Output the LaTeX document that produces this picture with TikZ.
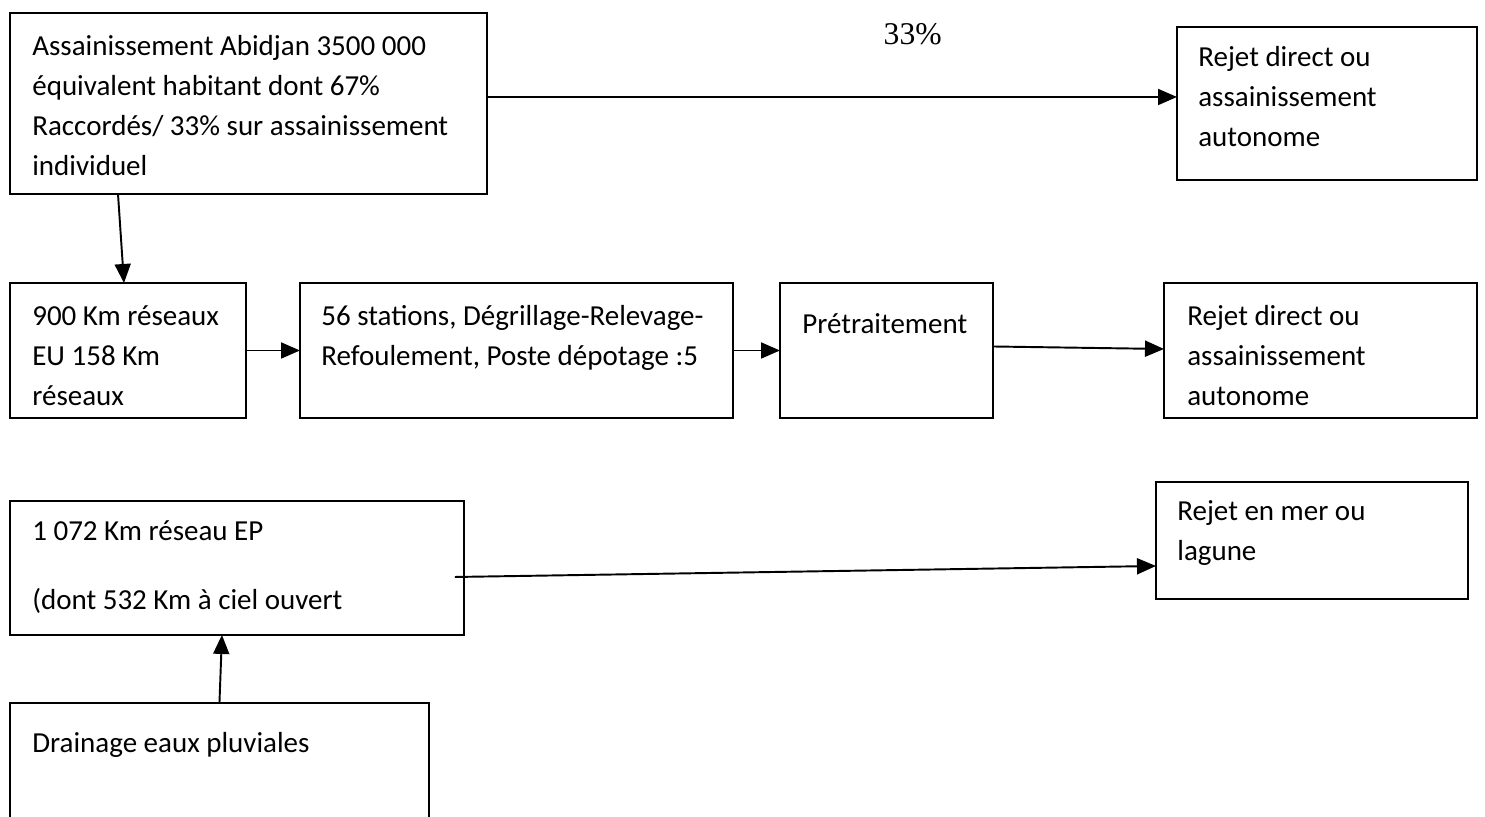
\documentclass[tikz,border=0pt]{standalone}
\usepackage{fontspec}
\setmainfont{Carlito}
\newfontfamily\pctfont{Liberation Serif}
\usetikzlibrary{arrows.meta,calc}

\begin{document}
\begin{tikzpicture}[x=0.02cm, y=-0.02cm,
    box/.style={draw, line width=0.75pt, rectangle, inner sep=0pt, outer sep=0pt, anchor=north west},
    txt/.style={anchor=north west, inner sep=0pt, align=left, font=\fontsize{16.5}{22.76}\selectfont, execute at begin node=\strut},
    arr/.style={-{Triangle[length=0.38cm, width=0.32cm]}, line width=1.1pt}]
    \useasboundingbox (0,0) rectangle (1485,817);

    % Boxes
    \node[box, minimum width=9.54cm, minimum height=3.62cm] at (10, 13)  (abidjan)  {};
    \node[box, minimum width=6.00cm, minimum height=3.06cm] at (1177, 27) (rejet1)  {};
    \node[box, minimum width=4.72cm, minimum height=2.70cm] at (10, 283)  (reseaux)  {};
    \node[box, minimum width=8.66cm, minimum height=2.70cm] at (300, 283) (stations) {};
    \node[box, minimum width=4.26cm, minimum height=2.70cm] at (780, 283) (pretrait) {};
    \node[box, minimum width=6.26cm, minimum height=2.70cm] at (1164, 283) (rejet2) {};
    \node[box, minimum width=9.08cm, minimum height=2.68cm] at (10, 501)  (ep)       {};
    \node[box, minimum width=6.24cm, minimum height=2.34cm] at (1156, 482) (mer)    {};
    \node[box, minimum width=8.38cm, minimum height=2.54cm] at (10, 703)  (drainage) {};

    % Texts
    \node[txt] at (32, 35)    (t-abidjan)  {Assainissement Abidjan 3500 000\\équivalent habitant dont 67\%\\Raccordés/ 33\% sur assainissement\\individuel};
    \node[txt] at (1198, 46)  (t-rejet1)   {Rejet direct ou\\assainissement\\autonome};
    \node[txt] at (32, 305)   (t-reseaux)  {900 Km réseaux\\EU 158 Km\\réseaux};
    \node[txt] at (321, 305)  (t-stations) {56 stations, Dégrillage-Relevage-\\Refoulement, Poste dépotage :5};
    \node[txt] at (802, 305)  (t-pretrait) {Prétraitement};
    \node[txt] at (1187, 305) (t-rejet2)   {Rejet direct ou\\assainissement\\autonome};
    \node[txt] at (32, 520)   (t-ep)       {1 072 Km réseau EP\\[0.58cm](dont 532 Km à ciel ouvert};
    \node[txt] at (1177, 500) (t-mer)      {Rejet en mer ou\\lagune};
    \node[txt] at (32, 724)   (t-drainage) {Drainage eaux pluviales};
    \node[anchor=base east, inner sep=0pt, font=\pctfont\fontsize{18}{21}\selectfont] at (942, 45) (pct) {33\%};

    % Arrows
    \draw[arr] ($(abidjan.east)+(0,-6.5)$) -- ($(rejet1.west)+(0,-6.5)$);
    \draw[arr] ($(abidjan.south west)+(108,0)$) -- ($(reseaux.north west)+(114,0)$);
    \draw[arr] (reseaux.east) -- (stations.west);
    \draw[arr] (stations.east) -- (pretrait.west);
    \draw[arr] ($(pretrait.east)+(0,-4)$) -- ($(rejet2.west)+(0,-1.5)$);
    \draw[arr] ($(ep.east)+(-9,9)$) -- ($(mer.west)+(0,25.5)$);
    \draw[arr] (drainage.north) -- ($(ep.south)+(-15,0)$);

\end{tikzpicture}
\end{document}
